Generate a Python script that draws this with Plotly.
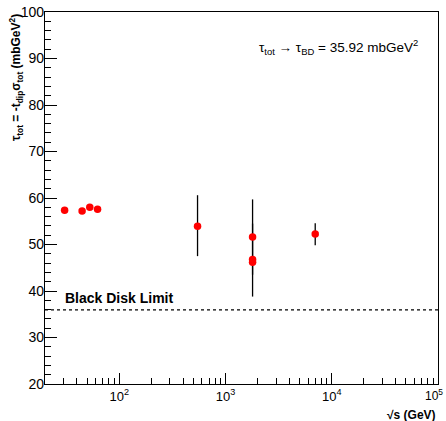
import plotly.graph_objects as go

sqrt_s = [30.6, 44.7, 52.8, 62.5, 546, 1800, 1800, 1800, 7000]
tau = [57.35, 57.2, 58.0, 57.6, 53.9, 51.6, 46.8, 46.2, 52.26]
err_plus = [0, 0, 0, 0, 6.7, 8.1, 7.7, 0, 2.3]
err_minus = [0, 0, 0, 0, 6.4, 8.1, 8.0, 0, 2.4]
black_disk = 35.92

major_x = [100, 1000, 10000, 100000]
major_x_text = ["10<sup>2</sup>", "10<sup>3</sup>", "10<sup>4</sup>", "10<sup>5</sup>"]
minor_x = [m * 10 ** e for e in range(1, 5) for m in range(2, 10) if m * 10 ** e > 20]
minor_y = [v for v in range(22, 100, 2) if v % 10 != 0]

font = "Liberation Sans, Arial"

fig = go.Figure()
fig.add_trace(go.Scatter(
    x=sqrt_s, y=tau, mode="markers",
    marker=dict(color="#ff0000", size=7.5, symbol="circle"),
    error_y=dict(type="data", symmetric=False, array=err_plus, arrayminus=err_minus,
                 color="black", thickness=1.3, width=0),
    showlegend=False,
))
fig.add_shape(type="line", xref="paper", x0=0, x1=1, yref="y", y0=black_disk, y1=black_disk,
              line=dict(color="black", width=1.3, dash="3px,3px"))
fig.add_annotation(xref="paper", yref="y", x=0.045, y=36.4, xanchor="left", yanchor="bottom",
                   text="<b>Black Disk Limit</b>", showarrow=False,
                   font=dict(family=font, size=14, color="black"))
fig.add_annotation(xref="paper", yref="paper", x=0.54, y=0.905, xanchor="left", yanchor="middle",
                   text="τ<sub>tot</sub> → τ<sub>BD</sub> = 35.92 mbGeV<sup>2</sup>", showarrow=False,
                   font=dict(family=font, size=13.5, color="black"))

tick_text_shown = major_x_text[:-1] + [""]

fig.update_layout(
    width=446, height=421,
    margin=dict(l=45, r=8, t=12, b=37),
    paper_bgcolor="white", plot_bgcolor="white",
    font=dict(family=font, size=13, color="black"),
    xaxis=dict(
        type="log", range=[1.30103, 5.001], automargin=False,
        tickmode="array", tickvals=major_x, ticktext=tick_text_shown,
        ticks="inside", ticklen=11, tickwidth=1, tickcolor="black",
        minor=dict(tickmode="array", tickvals=minor_x, ticks="inside", ticklen=6, tickcolor="black"),
        showline=True, linecolor="black", linewidth=1.3, mirror=True,
        showgrid=False, zeroline=False,
        tickfont=dict(family=font, size=13),
        ticklabelstandoff=0,
        title=None,
    ),
    yaxis=dict(
        range=[20, 100], tickmode="linear", tick0=20, dtick=10, automargin=False,
        ticks="inside", ticklen=12, tickwidth=1, tickcolor="black",
        minor=dict(tickmode="array", tickvals=minor_y, ticks="inside", ticklen=6, tickcolor="black"),
        showline=True, linecolor="black", linewidth=1.3, mirror=True,
        showgrid=False, zeroline=False,
        tickfont=dict(family=font, size=14),
        ticklabelstandoff=-3, ticklabeloverflow="allow",
        title=None,
    ),
)
# last decade label, kept inside the page at the right edge
fig.add_annotation(xref="paper", yref="paper", x=1.018, y=-0.004, xanchor="right", yanchor="top",
                   text=major_x_text[-1], showarrow=False,
                   font=dict(family=font, size=12, color="black"))
fig.add_annotation(xref="paper", yref="paper", x=1.0, y=-0.06, xanchor="right", yanchor="top",
                   text="<b>√s (GeV)</b>", showarrow=False,
                   font=dict(family=font, size=12, color="black"))
fig.add_annotation(xref="paper", yref="paper", x=-0.075, y=1.0, xanchor="center", yanchor="top",
                   text="<b>τ<sub>tot</sub> = -t<sub>dip</sub>σ<sub>tot</sub> (mbGeV<sup>2</sup>)</b>",
                   textangle=-90, showarrow=False,
                   font=dict(family=font, size=12, color="black"))

fig.write_html("out.html")
